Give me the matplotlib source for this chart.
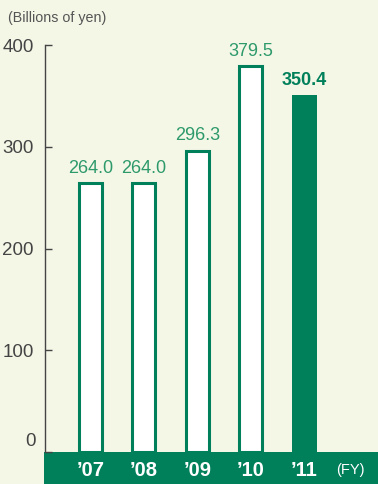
import matplotlib
matplotlib.use('Agg')
from matplotlib import pyplot as plt
from matplotlib.patches import Rectangle

plt.rcParams['font.family'] = ['Liberation Sans', 'DejaVu Sans']

years = ["’07", "’08", "’09", "’10", "’11"]
sales = [264.0, 264.0, 296.3, 379.5, 350.4]
yticks = [0, 100, 200, 300, 400]

bg = '#f4f7e6'
green = '#00805a'
label_green = '#2e9a6c'
grey = '#444444'

W, H = 378, 484
fig = plt.figure(figsize=(W / 100, H / 100), dpi=100, facecolor=bg)

# axes box in pixel terms: x 45..378, y 45..452
ax = fig.add_axes([45 / W, 1 - 452 / H, (W - 45) / W, (452 - 45) / H])
ax.set_facecolor(bg)
ax.set_xlim(-0.85, 5.374)
ax.set_ylim(0, 400)

# band under the axis holding the year labels
fig.patches.append(Rectangle((44 / W, 0), (W - 44) / W, (H - 452) / H,
                             transform=fig.transFigure, facecolor=green,
                             edgecolor='none', zorder=-1))

for i, v in enumerate(sales):
    if i < len(sales) - 1:
        ax.bar(i, v, width=0.43, color='white', edgecolor=green,
               linewidth=2.2, zorder=3)
        ax.text(i, v + 6, f'{v:.1f}', ha='center', va='bottom',
                fontsize=13, color=label_green)
    else:
        ax.bar(i, v, width=0.45, color=green, edgecolor='none', zorder=3)
        ax.text(i, v + 6, f'{v:.1f}', ha='center', va='bottom',
                fontsize=13, color=green, fontweight='bold')

for s in ['top', 'right', 'bottom']:
    ax.spines[s].set_visible(False)
ax.spines['left'].set_color(grey)
ax.spines['left'].set_linewidth(1.0)

ax.set_yticks(yticks)
# zero label is drawn separately, lifted above the band
ax.set_yticklabels(['' if t == 0 else str(t) for t in yticks],
                   fontsize=13.5, color=grey)
ax.tick_params(axis='y', direction='in', length=5, width=1.0, color=grey, pad=8)
ax.set_xticks([])
fig.text(36 / W, 1 - 441 / H, '0', ha='right', va='center',
         fontsize=13.5, color=grey)

for i, y in enumerate(years):
    px = ax.transData.transform((i, 0))[0]
    fig.text(px / W, 1 - 470 / H, y, ha='center', va='center', fontsize=14.5,
             fontweight='bold', color='white')
fig.text(350 / W, 1 - 470 / H, '(FY)', ha='center', va='center',
         fontsize=10.5, color='white')
fig.text(8 / W, 1 - 18 / H, '(Billions of yen)', ha='left', va='center',
         fontsize=10.3, color='#555555')

fig.savefig('out.png', dpi=100, facecolor=bg)
